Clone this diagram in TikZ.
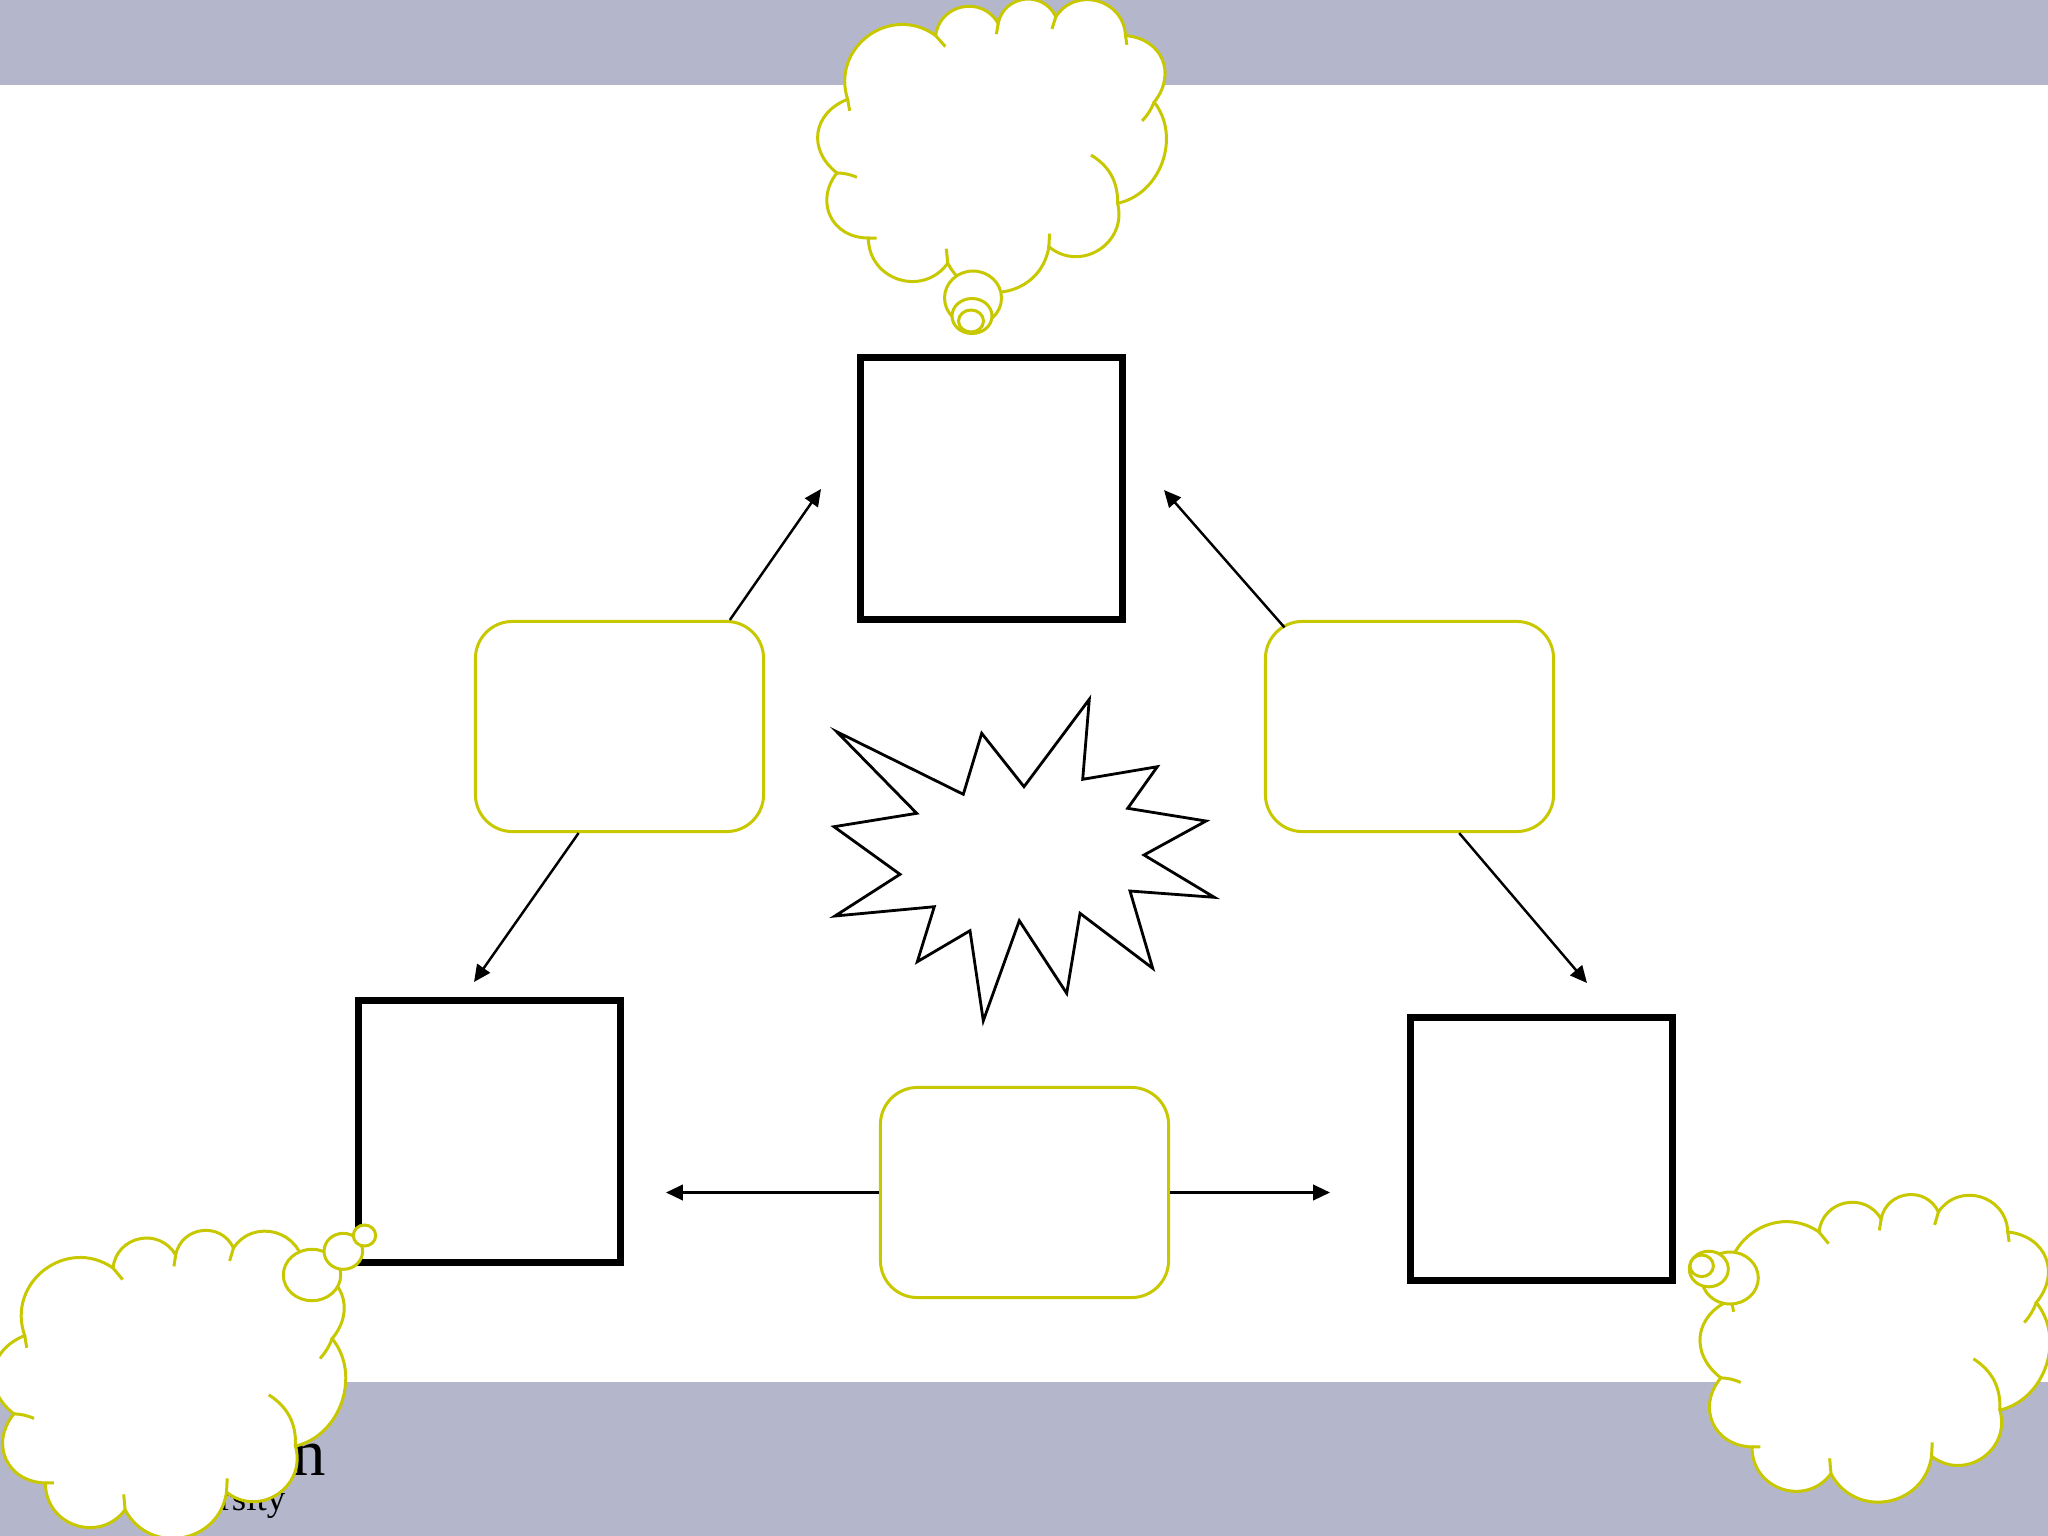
\documentclass[tikz,border=0pt]{standalone}
\usepackage{fontspec}
\setmainfont{Liberation Serif}
\usetikzlibrary{arrows.meta, positioning, calc}
\definecolor{bandgrey}{RGB}{180,183,204}
\definecolor{calloutgreen}{RGB}{200,200,0}
\tikzset{
  % Thick empty square
  bigsquare/.style={
    rectangle, draw=black, fill=white, line width=2pt,
    minimum width=2.62cm, minimum height=2.62cm, inner sep=0pt
  },
  % Rounded box with green outline
  roundbox/.style={
    rectangle, rounded corners=0.37cm, draw=calloutgreen, fill=white,
    line width=0.85pt, minimum width=2.88cm, minimum height=2.1cm, inner sep=0pt
  },
  linkarrow/.style={-{Triangle[length=4.8pt, width=4.4pt]}, line width=0.7pt, black},
  burst/.style={draw=black, fill=white, line width=0.8pt, line join=miter},
  cloudline/.style={draw=calloutgreen, line width=0.85pt},
  puff/.style={bend left=#1, looseness=1.3},
  puff/.default=72,
  % Cloud outline in a unit box (y pointing down)
  cloudcallout/.pic={
    \draw[cloudline, fill=white]
      (0.080,0.350) to[puff] (0.335,0.130)
      to[puff] (0.516,0.088)
      to[puff] (0.683,0.065)
      to[puff] (0.885,0.130)
      to[puff=62] (0.968,0.360)
      to[bend left=58, looseness=1.05] (0.862,0.710)
      to[puff] (0.663,0.860)
      to[puff] (0.370,0.917)
      to[puff] (0.140,0.830)
      to[puff=64] (0.049,0.605)
      to[puff=60] (0.080,0.350) -- cycle;
    % inner ticks
    \draw[cloudline]
      (0.080,0.350) -- ++(0.006,0.040)
      (0.335,0.130) -- ++(0.028,0.038)
      (0.516,0.088) -- ++(-0.005,0.037)
      (0.683,0.065) -- ++(-0.011,0.042)
      (0.885,0.130) -- ++(0.004,0.032)
      (0.968,0.360) to[bend left=10] ++(-0.035,0.065)
      (0.862,0.710) to[bend right=30] ++(-0.077,-0.167)
      (0.663,0.860) -- ++(0.002,-0.045)
      (0.370,0.917) -- ++(-0.004,-0.050)
      (0.140,0.830) -- ++(0.024,0)
      (0.049,0.605) to[bend left=10] ++(0.058,0.015);
  }
}
\begin{document}
\begin{tikzpicture}[x=0.01cm, y=-0.01cm]
  \useasboundingbox (0,0) rectangle (2048,1536);
  \clip (0,0) rectangle (2048,1536);
  \fill[white] (0,0) rectangle (2048,1536);

  % Bands
  \fill[bandgrey] (0,0) rectangle (2048,85);
  \fill[bandgrey] (0,1382) rectangle (2048,1536);

  % Logo text (mostly behind the cloud)
  \node[anchor=base east, inner sep=0pt, font=\fontsize{19pt}{19pt}\selectfont] (logoname) at (327,1475) {n};
  \node[anchor=base east, inner sep=0pt, font=\fontsize{10.5pt}{10.5pt}\selectfont] (logosub) at (286,1510) {rsity};

  % Squares
  \node[bigsquare] (topsq) at (991.5,488.5) {};
  \node[bigsquare] (leftsq) at (489.5,1131.5) {};
  \node[bigsquare] (rightsq) at (1541.5,1149) {};

  % Rounded boxes
  \node[roundbox] (leftbox) at (619.5,726.5) {};
  \node[roundbox] (rightbox) at (1409.5,726.5) {};
  \node[roundbox] (bottombox) at (1024.5,1192.5) {};

  % Arrows
  \coordinate (tipTL) at (821,489);
  \coordinate (tipBL) at (474,982);
  \coordinate (tipTR) at (1164,490);
  \coordinate (tipBR) at (1587,983);
  \coordinate (tipW) at (666,1192.5);
  \coordinate (tipE) at (1330,1192.5);
  \draw[linkarrow] (leftbox.44) -- (tipTL);
  \draw[linkarrow] (leftbox.249) -- (tipBL);
  \draw[linkarrow, shorten <=-0.1cm] (rightbox.141.5) -- (tipTR);
  \draw[linkarrow] (rightbox.295) -- (tipBR);
  \draw[linkarrow] (bottombox.west) -- (tipW);
  \draw[linkarrow] (bottombox.east) -- (tipE);

  % Burst
  \draw[burst] (836.7,731.7) -- (963.3,794.3) -- (981.7,733.3) -- (1024,786.7)
    -- (1089.3,699.3) -- (1082.7,779.3) -- (1157.3,766.7) -- (1127.7,808.3)
    -- (1206,821) -- (1144,855) -- (1214.3,897.3) -- (1130,891)
    -- (1152.7,968.3) -- (1080,913.3) -- (1066.7,993.3) -- (1019.3,920.7)
    -- (983.3,1020.7) -- (970,930.7) -- (917.3,961.7) -- (934.3,906.7)
    -- (835,916) -- (900,874.3) -- (834,826.7) -- (916.7,813.3) -- cycle;

  % Top cloud
  \begin{scope}[shift={(820,-2)}, x=3.45cm, y=-2.89cm]
    \pic {cloudcallout};
  \end{scope}
  \draw[cloudline, fill=white] (973,298) ellipse [x radius=28.5, y radius=27];
  \draw[cloudline, fill=white] (972,316) ellipse [x radius=20, y radius=17.5];
  \draw[cloudline, fill=white] (971,321) ellipse [x radius=12.5, y radius=11];

  % Bottom left cloud
  \begin{scope}[shift={(-3,1228)}, x=3.46cm, y=-3.07cm]
    \pic {cloudcallout};
  \end{scope}
  \draw[cloudline, fill=white] (312,1275) ellipse [x radius=28.7, y radius=25.7];
  \draw[cloudline, fill=white] (343.3,1251.3) ellipse [x radius=19.3, y radius=18];
  \draw[cloudline, fill=white] (364.5,1235.5) ellipse [x radius=11.2, y radius=10.5];

  % Bottom right cloud
  \begin{scope}[shift={(1704,1192)}, x=3.43cm, y=-3.07cm]
    \pic {cloudcallout};
  \end{scope}
  \draw[cloudline, fill=white] (1730,1278) ellipse [x radius=28.3, y radius=26];
  \draw[cloudline, fill=white] (1708.8,1269) ellipse [x radius=19.5, y radius=17.8];
  \draw[cloudline, fill=white] (1701.7,1265.8) ellipse [x radius=11.7, y radius=10.8];
\end{tikzpicture}
\end{document}
